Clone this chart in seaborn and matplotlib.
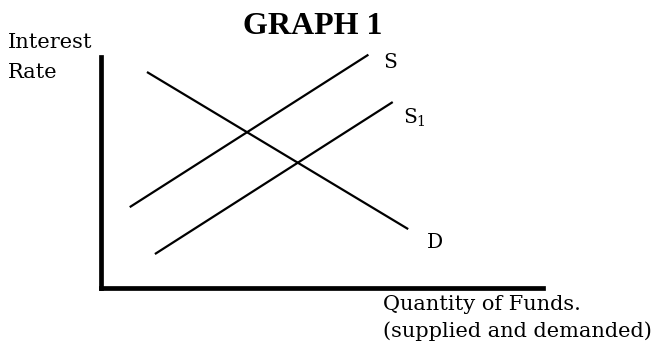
import pandas as pd
import matplotlib.pyplot as plt
import seaborn as sns

# end points of each curve (quantity, interest rate)
s_q = [0.65, 6.05]
s_r = [3.5, 10.1]
s1_q = [1.22, 6.6]
s1_r = [1.47, 8.05]
d_q = [1.04, 6.95]
d_r = [9.35, 2.55]

label_q = [6.54, 7.1, 7.56]
label_r = [9.78, 7.36, 1.99]
label_txt = ["S", "S$_1$", "D"]

df = pd.concat([
    pd.DataFrame({"q": s_q, "r": s_r, "curve": "S"}),
    pd.DataFrame({"q": s1_q, "r": s1_r, "curve": "S1"}),
    pd.DataFrame({"q": d_q, "r": d_r, "curve": "D"}),
])

sns.set_style("white")
plt.rcParams["font.family"] = ["DejaVu Serif"]
plt.rcParams["text.color"] = "black"
plt.rcParams["mathtext.fontset"] = "dejavuserif"

fig = plt.figure(figsize=(6.58, 3.48), dpi=100)
fig.patch.set_facecolor("white")
ax = fig.add_axes([101 / 658, 60 / 348, 442 / 658, 231 / 348])
ax.set_facecolor("none")

sns.lineplot(data=df, x="q", y="r", units="curve", estimator=None, sort=False,
             color="black", linewidth=1.6, ax=ax)
for ln in ax.lines:
    ln.set_clip_on(False)
    ln.set_solid_capstyle("butt")

for q, r, t in zip(label_q, label_r, label_txt):
    ax.text(q, r, t, fontsize=14.5, ha="center", va="center")

ax.set_xlim(0, 10)
ax.set_ylim(0, 10)
ax.set_xticks([])
ax.set_yticks([])
ax.set_xlabel("")
ax.set_ylabel("")
for side in ["top", "right"]:
    ax.spines[side].set_visible(False)
for side in ["left", "bottom"]:
    ax.spines[side].set_linewidth(3.4)
    ax.spines[side].set_color("black")
    ax.spines[side].set_capstyle("projecting")

fig.text(313 / 658, 1 - 26 / 348, "GRAPH 1", fontsize=23, fontweight="bold",
         family="Liberation Serif", ha="center", va="center")
fig.text(8 / 658, 1 - 43 / 348, "Interest", fontsize=15, ha="left", va="center")
fig.text(8 / 658, 1 - 72 / 348, "Rate", fontsize=15, ha="left", va="center")
fig.text(383 / 658, 1 - 305 / 348, "Quantity of Funds.", fontsize=15, ha="left", va="center")
fig.text(383 / 658, 1 - 331 / 348, "(supplied and demanded)", fontsize=15, ha="left", va="center")

fig.savefig("out.png", dpi=100)
